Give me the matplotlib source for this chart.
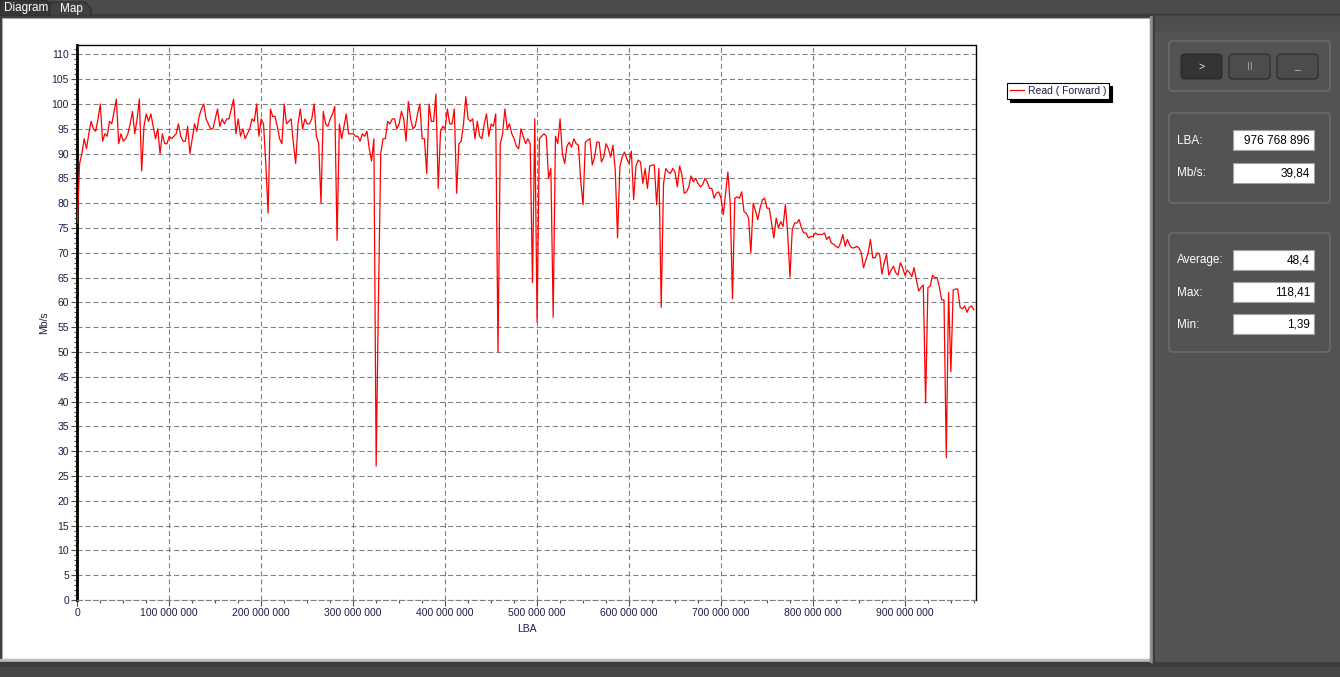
import numpy as np
import matplotlib
matplotlib.use('Agg')
import matplotlib.pyplot as plt
from matplotlib.patches import Rectangle, FancyBboxPatch, Polygon
from matplotlib.ticker import MultipleLocator, FuncFormatter

plt.rcParams['font.family'] = ['Liberation Sans', 'DejaVu Sans']
plt.rcParams['lines.scale_dashes'] = False

# read speed in Mb/s, one sample every 2.5 million LBA
lba_step = 2.5e6
lba_end = 976768896
speed = [
    76, 88, 90, 93, 91, 94, 96.5, 95, 94.5, 97,
    100, 92.5, 94, 93.5, 96.5, 96, 98.5, 101, 92, 94,
    92.5, 93, 94, 96, 98.5, 94, 97, 101, 86.5, 95.5,
    98, 96.5, 98, 95.5, 93, 95, 90, 94, 92, 92,
    93.5, 93, 93.5, 94, 96, 93.5, 92.5, 92.5, 95.5, 90,
    93, 96, 94.5, 97.5, 99, 100, 97, 96, 95, 95,
    97, 99, 95.5, 97, 96, 97, 97, 99, 101, 94,
    97, 93.5, 95, 93, 94, 95, 97, 96.5, 100, 93.5,
    97, 96, 88, 78, 99, 97.5, 97.5, 95.5, 93, 92,
    100, 96, 96.5, 97, 92, 88, 96, 99, 95, 97,
    96, 96, 97, 100, 93.5, 92, 80, 98.5, 96, 95.5,
    97, 98, 99.5, 72.5, 96, 93, 95.5, 98, 94, 94,
    94, 93.5, 93.5, 92.5, 94, 93.5, 94.5, 91, 88.5, 93,
    27, 61, 90, 93, 93, 96.5, 96, 97, 97, 95,
    96, 98.5, 97, 92.5, 100.5, 97, 95, 95.5, 98, 100,
    93, 93, 86, 100, 96.5, 96.5, 102, 83, 94.5, 95.5,
    95, 99, 96, 96, 99, 82, 92, 92.5, 96, 101.5,
    97, 96.5, 97, 93, 96.5, 93.5, 93, 96, 98, 93.5,
    96, 95.5, 98, 50, 92, 94, 99, 95, 96, 94,
    93, 91.5, 91, 95, 93.5, 92, 93, 92, 64, 97,
    56, 93, 93.5, 94, 93.5, 85, 87, 57, 93.5, 92,
    97, 90, 88, 91.5, 92.3, 91.3, 93, 92, 91.7, 84.3,
    79.7, 92.3, 92.7, 93, 87.7, 89.3, 92.3, 92.3, 88.3, 89.3,
    92, 91, 89.3, 91.7, 86.7, 73, 87.3, 89.3, 90.3, 89,
    88, 90.5, 80.7, 87.5, 88.7, 88.3, 84, 87, 83, 87.5,
    87.7, 87.7, 79.7, 87, 59, 84, 87, 86.3, 86, 87,
    86.3, 83.3, 87.5, 85.7, 82, 82.3, 83.3, 85.5, 84.3, 85,
    84, 83.3, 83.7, 85, 84.3, 83, 83, 81, 82, 82.3,
    81, 77.7, 82, 86.3, 80, 60.7, 81, 81.3, 81, 82.3,
    78.3, 78, 77, 70, 80, 78.5, 76.7, 79, 80.7, 81,
    79, 79, 76, 73, 77, 75, 76.3, 75.3, 79.7, 74,
    65.1, 74.7, 76, 76, 76.7, 75, 74, 74, 73, 73.3,
    73.3, 74, 73.7, 73.7, 73.7, 74, 72.7, 73.3, 72, 71.7,
    71.3, 71, 72, 73.7, 71.3, 72.7, 71.5, 71, 71, 71.3,
    71, 70, 67, 68.5, 70, 72.7, 69, 69, 70, 69.7,
    65.7, 68, 69.7, 65.5, 66.5, 67.3, 66, 65.5, 68, 67,
    65.5, 66.5, 66, 65.2, 67, 64.5, 62.3, 63, 63.5, 39.7,
    63, 63.3, 65.5, 65, 65, 63, 60.5, 60.5, 28.7, 62,
    46, 62.5, 62.7, 62.7, 59, 58.7, 59.3, 58, 59, 59.3,
    58.5,
]
lba = np.arange(len(speed)) * lba_step

series_name = 'Read ( Forward )'
tab_names = ['Diagram', 'Map']
info_labels = ['LBA:', 'Mb/s:']
info_values = ['976 768 896', '39,84']
stat_labels = ['Average:', 'Max:', 'Min:']
stat_values = ['48,4', '118,41', '1,39']
buttons = ['>', 'II', '_']

W, H = 1340, 677
fig = plt.figure(figsize=(W / 100, H / 100), dpi=100)
fig.patch.set_facecolor('#4a4a4a')

# window chrome, drawn in pixel coordinates
bg = fig.add_axes([0, 0, 1, 1])
bg.set_xlim(0, W)
bg.set_ylim(H, 0)
bg.axis('off')

bg.add_patch(Rectangle((0, 0), W, 16, color='#4b4b4b'))
bg.add_patch(Rectangle((0, 14), W, 3, color='#3a3a3a'))
bg.add_patch(Polygon([(0, 16), (0, 0), (46, 0), (50, 4), (50, 16)],
                     closed=True, fc='#363636', ec='#2a2a2a', lw=0.8))
bg.add_patch(Polygon([(50, 16), (50, 2), (85, 2), (91, 8), (91, 16)],
                     closed=True, fc='#414141', ec='#2e2e2e', lw=0.8))
bg.text(4, 7.5, tab_names[0], color='white', fontsize=8.5, va='center', ha='left')
bg.text(60, 9, tab_names[1], color='white', fontsize=8.5, va='center', ha='left')

# white diagram page
bg.add_patch(Rectangle((0, 16), 1153, 646, color='#3c3c3c'))
bg.add_patch(Rectangle((2, 18), 1148, 641, fc='white', ec='#a8a8a8', lw=0.8))
bg.add_patch(Rectangle((0, 659), 1152, 2, color='#bdbdbd'))
bg.add_patch(Rectangle((0, 662), W, 5, color='#3b3b3b'))
bg.add_patch(Rectangle((0, 667), W, 10, color='#474747'))

# right control panel
bg.add_patch(Rectangle((1150, 16), 3, 646, color='#8e8e8e'))
bg.add_patch(Rectangle((1153, 16), 2, 646, color='#3a3a3a'))
bg.add_patch(Rectangle((1155, 16), W - 1155, 645, color='#535353'))
bg.add_patch(Rectangle((1155, 16), W - 1155, 14, color='#4e4e4e'))

for y0, y1 in [(41, 91), (113, 203), (233, 352)]:
    bg.add_patch(FancyBboxPatch((1169, y0), 161, y1 - y0,
                                boxstyle='round,pad=0,rounding_size=3',
                                fc='none', ec='#767676', lw=0.8))

btn_x = [1181, 1229, 1277]
btn_fc = ['#333333', '#4c4c4c', '#4c4c4c']
btn_tc = ['#e8e8e8', '#a0a0a0', '#c0c0c0']
for bx, label, fc, tc in zip(btn_x, buttons, btn_fc, btn_tc):
    bg.add_patch(FancyBboxPatch((bx, 54), 41, 25,
                                boxstyle='round,pad=0,rounding_size=4',
                                fc=fc, ec='#2a2a2a', lw=0.8))
    bg.text(bx + 20.5, 66.5, label, color=tc, fontsize=7.5, ha='center', va='center')

def value_box(y, label, value):
    bg.text(1177, y + 10.5, label, color='white', fontsize=8.5, ha='left', va='center')
    bg.add_patch(Rectangle((1233, y), 81, 20, fc='white', ec='#a0a0a0', lw=0.8))
    bg.text(1310, y + 10.5, value, color='black', fontsize=8.5, ha='right', va='center')

for y, label, value in zip([130, 163], info_labels, info_values):
    value_box(y, label, value)
for y, label, value in zip([250, 282, 314], stat_labels, stat_values):
    value_box(y, label, value)

# the diagram itself
tick_col = '#1c1c48'
ax = fig.add_axes([77.3 / W, 1 - 600 / H, (975.5 - 77.3) / W, (600 - 45) / H])
ax.set_facecolor('white')
ax.plot(lba, speed, color='#ff0000', lw=0.9, label=series_name, zorder=3)
ax.set_xlim(0, lba_end)
ax.set_ylim(0, 111.9)

ax.xaxis.set_major_locator(MultipleLocator(1e8))
ax.xaxis.set_minor_locator(MultipleLocator(2.5e7))
ax.yaxis.set_major_locator(MultipleLocator(5))
ax.yaxis.set_minor_locator(MultipleLocator(1))
ax.xaxis.set_major_formatter(FuncFormatter(lambda v, p: f'{int(v):,}'.replace(',', ' ')))
ax.tick_params(which='major', direction='out', length=4, width=0.8, color='#505050',
               labelsize=7.5, labelcolor=tick_col, pad=2)
ax.tick_params(which='minor', direction='out', length=2, width=0.8, color='#505050')

ax.grid(True, which='major', color='#808080', lw=0.8, linestyle=(0, (3.6, 2.2)))
ax.set_axisbelow(True)
for side in ['top', 'right']:
    ax.spines[side].set_linewidth(1.0)
    ax.spines[side].set_color('black')
ax.spines['left'].set_linewidth(2.0)
ax.spines['left'].set_color('black')
ax.spines['bottom'].set_color('#808080')
ax.spines['bottom'].set_linewidth(0.8)
ax.spines['bottom'].set_linestyle((0, (3.6, 2.2)))

ax.set_xlabel('LBA', fontsize=7.5, color=tick_col, labelpad=4)
ax.set_ylabel('Mb/s', fontsize=7.5, color=tick_col, labelpad=2)

leg = ax.legend(loc='upper left', bbox_to_anchor=(1007 / W, 1 - 83 / H),
                bbox_transform=fig.transFigure, fontsize=7.5, fancybox=False,
                shadow={'color': 'black', 'alpha': 1}, edgecolor='black',
                framealpha=1, handlelength=1.3, handletextpad=0.4,
                borderpad=0.3, borderaxespad=0)
leg.get_frame().set_linewidth(0.8)
for t in leg.get_texts():
    t.set_color(tick_col)

fig.savefig('out.png', dpi=100, facecolor=fig.get_facecolor())
plt.close(fig)
